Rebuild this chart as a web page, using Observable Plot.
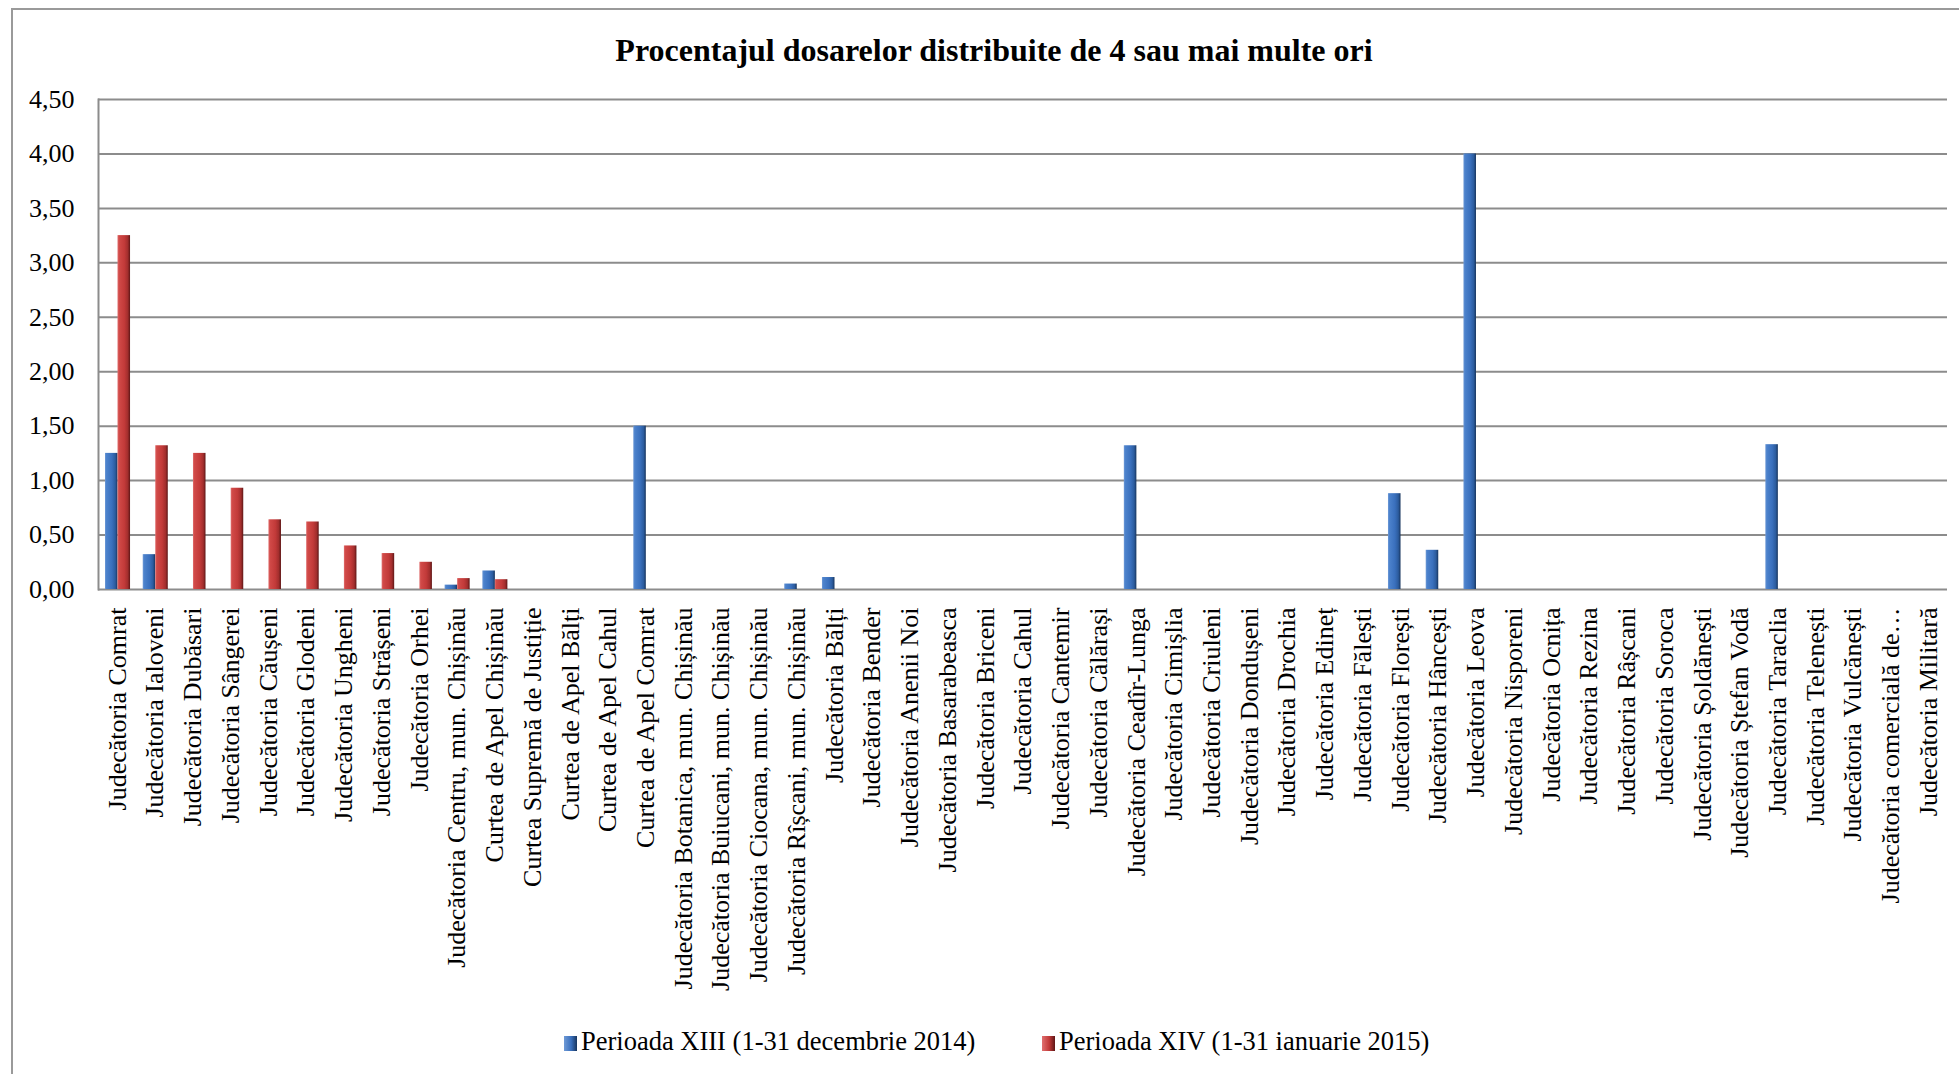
<!DOCTYPE html>
<html>
<head>
<meta charset="utf-8">
<script src="https://cdn.jsdelivr.net/npm/d3@7"></script>
<script src="https://cdn.jsdelivr.net/npm/@observablehq/plot@0.6"></script>
<style>
  html, body { margin: 0; padding: 0; background: #fff; }
  #page { position: relative; width: 1959px; height: 1074px; overflow: hidden; background: #fff; font-family: "Liberation Serif", "Times New Roman", serif; color: #000; }
  #border { position: absolute; left: 11px; top: 8px; width: 3000px; height: 3000px; border-left: 2px solid #9a9a9a; border-top: 2px solid #9a9a9a; }
  #title { position: absolute; left: 0; width: 1988px; top: 29px; text-align: center; font-weight: bold; font-size: 32px; line-height: 42px; }
  #chart { position: absolute; left: 0; top: 0; }
  #legend { position: absolute; top: 1021px; left: 0; width: 1959px; height: 40px; font-size: 26.5px; line-height: 40px; }
  .item { position: absolute; top: 0; white-space: nowrap; }
  .sw { display: inline-block; width: 13px; height: 15px; margin-right: 4px; vertical-align: -1px; }
</style>
</head>
<body>
<div id="page">
  <div id="border"></div>
  <div id="chart"></div>
  <div id="title">Procentajul dosarelor distribuite de 4 sau mai multe ori</div>
  <div id="legend"></div>
</div>
<script>
const categories = [
  "Judecătoria Comrat",
  "Judecătoria Ialoveni",
  "Judecătoria Dubăsari",
  "Judecătoria Sângerei",
  "Judecătoria Căușeni",
  "Judecătoria Glodeni",
  "Judecătoria Ungheni",
  "Judecătoria Strășeni",
  "Judecătoria Orhei",
  "Judecătoria Centru, mun. Chișinău",
  "Curtea de Apel Chișinău",
  "Curtea Supremă de Justiție",
  "Curtea de Apel Bălți",
  "Curtea de Apel Cahul",
  "Curtea de Apel Comrat",
  "Judecătoria Botanica, mun. Chișinău",
  "Judecătoria Buiucani, mun. Chișinău",
  "Judecătoria Ciocana, mun. Chișinău",
  "Judecătoria Rîșcani, mun. Chișinău",
  "Judecătoria Bălți",
  "Judecătoria Bender",
  "Judecătoria Anenii Noi",
  "Judecătoria Basarabeasca",
  "Judecătoria Briceni",
  "Judecătoria Cahul",
  "Judecătoria Cantemir",
  "Judecătoria Călărași",
  "Judecătoria Ceadîr-Lunga",
  "Judecătoria Cimișlia",
  "Judecătoria Criuleni",
  "Judecătoria Dondușeni",
  "Judecătoria Drochia",
  "Judecătoria Edineț",
  "Judecătoria Fălești",
  "Judecătoria Florești",
  "Judecătoria Hâncești",
  "Judecătoria Leova",
  "Judecătoria Nisporeni",
  "Judecătoria Ocnița",
  "Judecătoria Rezina",
  "Judecătoria Râșcani",
  "Judecătoria Soroca",
  "Judecătoria Șoldănești",
  "Judecătoria Ștefan Vodă",
  "Judecătoria Taraclia",
  "Judecătoria Telenești",
  "Judecătoria Vulcănești",
  "Judecătoria comercială de…",
  "Judecătoria Militară"
];

// Perioada XIII (1-31 decembrie 2014)
const seriesXIII = [
  1.25, 0.32, 0, 0, 0, 0, 0, 0, 0, 0.04,
  0.17, 0, 0, 0, 1.50, 0, 0, 0, 0.05, 0.11,
  0, 0, 0, 0, 0, 0, 0, 1.32, 0, 0,
  0, 0, 0, 0, 0.88, 0.36, 4.00, 0, 0, 0,
  0, 0, 0, 0, 1.33, 0, 0, 0, 0
];

// Perioada XIV (1-31 ianuarie 2015)
const seriesXIV = [
  3.25, 1.32, 1.25, 0.93, 0.64, 0.62, 0.40, 0.33, 0.25, 0.10,
  0.09, 0, 0, 0, 0, 0, 0, 0, 0, 0,
  0, 0, 0, 0, 0, 0, 0, 0, 0, 0,
  0, 0, 0, 0, 0, 0, 0, 0, 0, 0,
  0, 0, 0, 0, 0, 0, 0, 0, 0
];

const seriesNames = ["Perioada XIII (1-31 decembrie 2014)", "Perioada XIV (1-31 ianuarie 2015)"];
const yTicks = [0, 0.5, 1, 1.5, 2, 2.5, 3, 3.5, 4, 4.5];

const rowsXIII = categories.map((c, i) => ({category: c, value: seriesXIII[i]})).filter(d => d.value > 0);
const rowsXIV = categories.map((c, i) => ({category: c, value: seriesXIV[i]})).filter(d => d.value > 0);

const gridColor = "#8c8c8c";

const chart = Plot.plot({
  width: 1959,
  height: 1010,
  marginTop: 99,
  marginBottom: 421,
  marginLeft: 98,
  marginRight: 12,
  style: {
    fontFamily: "'Liberation Serif', 'Times New Roman', serif",
    fontSize: "26px",
    color: "#000",
    background: "transparent",
    overflow: "visible"
  },
  x: {
    domain: categories,
    padding: 0,
    tickRotate: -90,
    tickSize: 0,
    tickPadding: 18,
    label: null
  },
  y: {
    domain: [0, 4.5],
    ticks: yTicks,
    tickFormat: d => d.toFixed(2).replace(".", ","),
    tickSize: 0,
    tickPadding: 24,
    label: null
  },
  marks: [
    Plot.ruleY(yTicks, {stroke: gridColor, strokeWidth: 2}),
    Plot.frame({anchor: "left", stroke: gridColor, strokeWidth: 2}),
    Plot.barY(rowsXIII, {x: "category", y: "value", fill: "url(#gradBlue)", insetLeft: 7, insetRight: 18.2}),
    Plot.barY(rowsXIV, {x: "category", y: "value", fill: "url(#gradRed)", insetLeft: 19.5, insetRight: 5.7})
  ]
});

const ns = "http://www.w3.org/2000/svg";
const defs = document.createElementNS(ns, "defs");
function grad(id, stops) {
  const g = document.createElementNS(ns, "linearGradient");
  g.setAttribute("id", id);
  g.setAttribute("x1", "0"); g.setAttribute("x2", "1");
  g.setAttribute("y1", "0"); g.setAttribute("y2", "0");
  for (const [o, c] of stops) {
    const s = document.createElementNS(ns, "stop");
    s.setAttribute("offset", o);
    s.setAttribute("stop-color", c);
    g.appendChild(s);
  }
  defs.appendChild(g);
}
grad("gradBlue", [["0", "#6f9ad6"], ["0.12", "#4c82cc"], ["0.55", "#3a70bd"], ["0.82", "#2c5c9e"], ["1", "#17355e"]]);
grad("gradRed", [["0", "#e07070"], ["0.12", "#d14a48"], ["0.55", "#c23a39"], ["0.82", "#a22e2d"], ["1", "#5e1616"]]);
chart.insertBefore(defs, chart.firstChild);

document.getElementById("chart").appendChild(chart);

const legend = document.getElementById("legend");
const swatchBg = [
  "linear-gradient(to right, #6f9ad6, #3a70bd 55%, #17355e)",
  "linear-gradient(to right, #e07070, #c23a39 55%, #5e1616)"
];
const legendLeft = [564, 1042];
seriesNames.forEach((name, i) => {
  const item = document.createElement("div");
  item.className = "item";
  item.style.left = legendLeft[i] + "px";
  const sw = document.createElement("span");
  sw.className = "sw";
  sw.style.background = swatchBg[i];
  item.appendChild(sw);
  item.appendChild(document.createTextNode(name));
  legend.appendChild(item);
});
</script>
</body>
</html>
